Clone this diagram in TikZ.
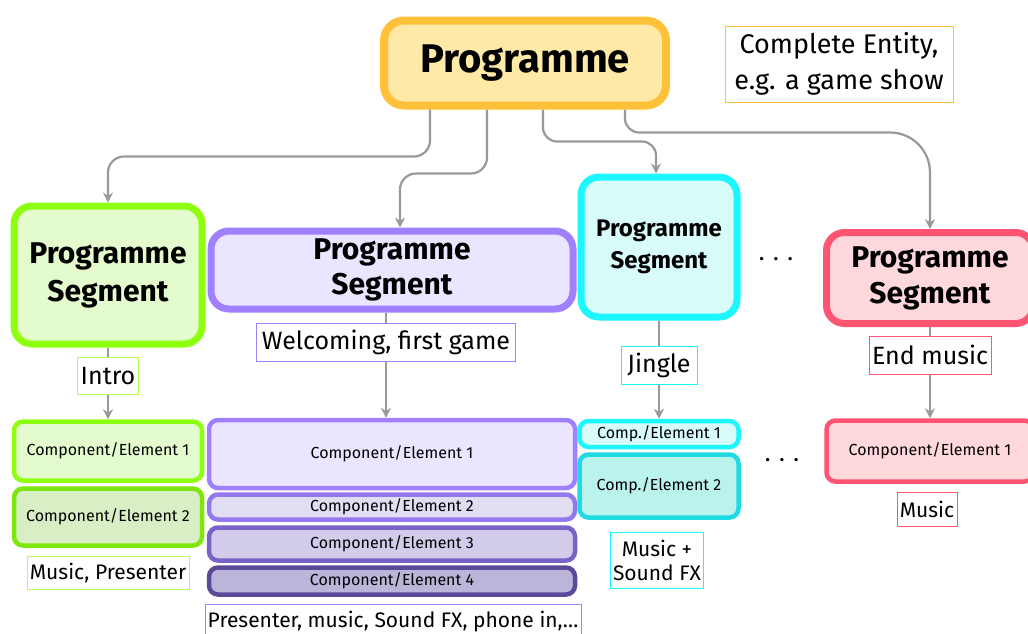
\documentclass[tikz,border=0pt]{standalone}
\usepackage{fontspec}
\setmainfont{Fira Sans}
\usepackage{tikz}
\usetikzlibrary{shapes,arrows.meta}
\usepackage{xcolor}

\definecolor{progline}{HTML}{FFC03A}
\definecolor{progfill}{HTML}{FFE9A6}
\definecolor{greenline}{HTML}{8EFF0F}
\definecolor{greenfill}{HTML}{E3FBCD}
\definecolor{greenlineb}{HTML}{7EE60A}
\definecolor{greenfillb}{HTML}{D9EEC4}
\definecolor{purpline}{HTML}{A080FF}
\definecolor{purpfill}{HTML}{EBE5FF}
\definecolor{purplineb}{HTML}{9478F0}
\definecolor{purpfillb}{HTML}{E1DDF3}
\definecolor{purplinec}{HTML}{7B62C8}
\definecolor{purpfillc}{HTML}{D2CBEA}
\definecolor{purplined}{HTML}{5C4A98}
\definecolor{purpfilld}{HTML}{BCB5DA}
\definecolor{cyanline}{HTML}{1CF7FF}
\definecolor{cyanfill}{HTML}{D8FCFA}
\definecolor{cyanlineb}{HTML}{1FD9E3}
\definecolor{cyanfillb}{HTML}{BAF2EC}
\definecolor{redline}{HTML}{FF5472}
\definecolor{redfill}{HTML}{FFD8DC}
\definecolor{linkgray}{HTML}{999999}

\begin{document}
\begin{tikzpicture}[x=1pt,y=-1pt]
\tikzstyle{every node}=[inner sep=0pt]
\tikzstyle{segbox}=[draw, line width=7pt, rounded corners=18pt, align=center, font=\fontsize{30}{38}\selectfont\bfseries]
\tikzstyle{compbox}=[draw, line width=4.5pt, rounded corners=9pt, font=\fontsize{16}{19}\selectfont]
\tikzstyle{tagbox}=[draw, line width=1pt, fill=white, align=center, font=\fontsize{25}{28}\selectfont]
\tikzstyle{link}=[draw=linkgray, line width=2.2pt]
\tikzstyle{conn}=[link, -{Stealth[length=10pt,width=10pt]}]
\path[use as bounding box, fill=white] (0,0) rectangle (1028,633);

% top
\node [draw=progline, fill=progfill, line width=8pt, rounded corners=20pt, minimum width=282pt, minimum height=85pt, font=\fontsize{40}{48}\selectfont\bfseries] (prog) at (525,63) {Programme};
\node [tagbox, draw=progline, minimum width=228pt, minimum height=76pt, font=\fontsize{27}{36}\selectfont] (entity) at (839,64) {Complete Entity,\\e.g. a game show};

% segments
\node [segbox, draw=greenline, fill=greenfill, minimum width=188pt, minimum height=138pt] (gseg) at (108,275) {Programme\\Segment};
\node [segbox, draw=purpline, fill=purpfill, minimum width=362pt, minimum height=78pt, font=\fontsize{30}{35}\selectfont\bfseries] (pseg) at (392,270) {Programme\\Segment};
\node [segbox, draw=cyanline, fill=cyanfill, minimum width=156pt, minimum height=140pt, font=\fontsize{24}{32}\selectfont\bfseries] (cseg) at (659,247) {Programme\\Segment};
\node [segbox, draw=redline, fill=redfill, minimum width=207pt, minimum height=91pt, font=\fontsize{30}{36}\selectfont\bfseries] (rseg) at (930,278) {Programme\\Segment};
\node [font=\fontsize{24}{24}\selectfont] (dotsa) at (776,259) {. . .};

% labels
\node [tagbox, draw=greenline!70, minimum width=61pt, minimum height=37pt] (intro) at (108,376) {Intro};
\node [tagbox, draw=purpline, minimum width=259pt, minimum height=38pt] (welcome) at (386,342) {Welcoming, first game};
\node [tagbox, draw=cyanline, minimum width=76pt, minimum height=38pt] (jingle) at (659,365) {Jingle};
\node [tagbox, draw=redline, minimum width=122pt, minimum height=38pt] (endmus) at (930,355) {End music};

% components
\node [compbox, draw=greenline, fill=greenfill, minimum width=188pt, minimum height=59pt] (gca) at (108,451) {Component/Element 1};
\node [compbox, draw=greenlineb, fill=greenfillb, minimum width=188pt, minimum height=57pt] (gcb) at (108,517) {Component/Element 2};
\node [compbox, draw=purpline, fill=purpfill, minimum width=366pt, minimum height=68pt] (pca) at (392,454) {Component/Element 1};
\node [compbox, draw=purplineb, fill=purpfillb, minimum width=366pt, minimum height=25pt] (pcb) at (392,507) {Component/Element 2};
\node [compbox, draw=purplinec, fill=purpfillc, minimum width=366pt, minimum height=33pt] (pcc) at (392,544) {Component/Element 3};
\node [compbox, draw=purplined, fill=purpfilld, minimum width=366pt, minimum height=27pt] (pcd) at (392,581) {Component/Element 4};
\node [compbox, draw=cyanline, fill=cyanfill, minimum width=159pt, minimum height=26pt] (cca) at (659,434) {Comp./Element 1};
\node [compbox, draw=cyanlineb, fill=cyanfillb, minimum width=159pt, minimum height=63pt] (ccb) at (659,486) {Comp./Element 2};
\node [compbox, draw=redline, fill=redfill, minimum width=207pt, minimum height=61pt] (rca) at (930,451) {Component/Element 1};
\node [font=\fontsize{24}{24}\selectfont] (dotsb) at (782,460) {. . .};

% contents
\node [tagbox, draw=greenline!70, minimum width=162pt, minimum height=33pt, font=\fontsize{21}{24}\selectfont] (gcont) at (108,573) {Music, Presenter};
\node [tagbox, draw=purpline, minimum width=376pt, minimum height=36pt, font=\fontsize{21}{24}\selectfont] (pcont) at (393,622) {Presenter, music, Sound FX, phone in,\dots};
\node [tagbox, draw=cyanline, minimum width=93pt, minimum height=56pt, font=\fontsize{21}{24}\selectfont] (ccont) at (657,560) {Music +\\Sound FX};
\node [tagbox, draw=redline, minimum width=60pt, minimum height=34pt, font=\fontsize{21}{24}\selectfont] (rcont) at (927,509) {Music};

% links
\draw [conn, rounded corners=16pt] ([xshift=-95pt]prog.south) -- ++(0,47) -| (gseg.north);
\draw [conn, rounded corners=16pt] ([xshift=-38pt]prog.south) -- ++(0,64) -| ([xshift=8pt]pseg.north);
\draw [conn, rounded corners=14pt] ([xshift=18pt]prog.south) -- ++(0,32) -| ([xshift=-3pt]cseg.north);
\draw [conn, rounded corners=14pt] ([xshift=100pt]prog.south) -- ++(0,23) -- ++(200,0) [rounded corners=40pt] -| (rseg.north);

\draw [link] (gseg.south) -- (intro.north);
\draw [conn] (intro.south) -- (gca.north);
\draw [link] (pseg.south -| welcome.north) -- (welcome.north);
\draw [conn] (welcome.south) -- (welcome.south |- pca.north);
\draw [link] (cseg.south) -- (jingle.north);
\draw [conn] (jingle.south) -- (cca.north);
\draw [link] (rseg.south) -- (endmus.north);
\draw [conn] (endmus.south) -- (rca.north);
\end{tikzpicture}
\end{document}
